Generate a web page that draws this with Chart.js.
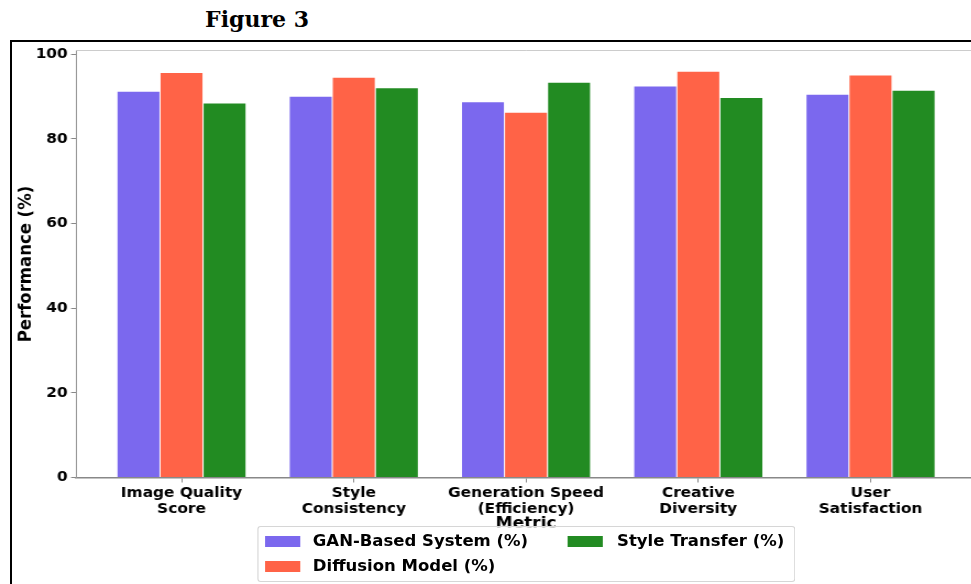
<!DOCTYPE html>
<html>
<head>
<meta charset="utf-8">
<script src="https://cdn.jsdelivr.net/npm/chart.js@4.4.0/dist/chart.umd.min.js"></script>
<style>
  html, body { margin: 0; padding: 0; width: 971px; height: 584px; overflow: hidden; background: #fff; }
  #fig { position: absolute; left: 157px; top: 6px; width: 200px; text-align: center;
         font: bold 22px "DejaVu Serif"; color: #000; line-height: 26px; }
  #frame { position: absolute; left: 10px; top: 40px; width: 1000px; height: 600px; border: 2px solid #000; }
  #wrap { position: absolute; left: 0; top: 0; transform: scaleX(1.1); transform-origin: 0 0; }
  #legend { position: absolute; left: 233.6px; top: 526px; width: 487px; height: 54px;
            border: 1px solid #d6d6d6; border-radius: 3px; background: rgba(255,255,255,0.8);
            font: bold 15px "DejaVu Sans"; color: #000; }
  .item { position: absolute; white-space: nowrap; }
  .patch { position: absolute; width: 32px; height: 11px; }
  .lbl { position: absolute; line-height: 18px; }
</style>
</head>
<body>
<div id="fig">Figure 3</div>
<div id="frame"></div>
<div id="wrap">
  <canvas id="chart" width="900" height="584"></canvas>
  <div id="legend"></div>
</div>
<script>
const categories = [
    ['Image Quality', 'Score'],
    ['Style', 'Consistency'],
    ['Generation Speed', '(Efficiency)'],
    ['Creative', 'Diversity'],
    ['User', 'Satisfaction']
];
const seriesNames = ['GAN-Based System (%)', 'Diffusion Model (%)', 'Style Transfer (%)'];
const ganValues = [91.4, 90.2, 88.9, 92.6, 90.7];
const diffusionValues = [95.8, 94.7, 86.4, 96.1, 95.2];
const styleValues = [88.6, 92.2, 93.5, 89.9, 91.6];
const colors = ['#7B68EE', '#FF6347', '#228B22'];
const yTicks = [0, 20, 40, 60, 80, 100];

const allValues = [ganValues, diffusionValues, styleValues];
const tickFont = { family: 'DejaVu Sans', size: 14, weight: 'bold', lineHeight: 1.2 };

// top spine (matplotlib frame)
const topSpine = {
    id: 'topSpine',
    afterDraw(chart) {
        const { ctx, chartArea } = chart;
        ctx.save();
        ctx.strokeStyle = '#cccccc';
        ctx.lineWidth = 1;
        ctx.beginPath();
        ctx.moveTo(chartArea.left, chartArea.top);
        ctx.lineTo(chartArea.right, chartArea.top);
        ctx.stroke();
        ctx.restore();
    }
};

const chart = new Chart(document.getElementById('chart'), {
    type: 'bar',
    data: {
        datasets: allValues.map((vals, k) => ({
            label: seriesNames[k],
            data: vals.map((v, i) => ({ x: i, y: v })),
            backgroundColor: colors[k],
            borderColor: 'rgba(255,255,255,0.3)',
            borderWidth: { top: 1, left: 0.5, right: 0.5, bottom: 0 },
            categoryPercentage: 0.75,
            barPercentage: 1.0
        }))
    },
    options: {
        responsive: false,
        animation: false,
        layout: { padding: { left: 0, right: 12.7, top: 50.5, bottom: 50.7 } },
        plugins: { legend: { display: false }, tooltip: { enabled: false } },
        scales: {
            x: {
                type: 'linear',
                offset: false,
                min: -0.6125,
                max: 4.6125,
                afterBuildTicks: s => { s.ticks = categories.map((c, i) => ({ value: i })); },
                afterFit: s => { s.height = 55.8; },
                ticks: {
                    font: tickFont,
                    color: '#000',
                    padding: 2,
                    maxRotation: 0,
                    autoSkip: false,
                    callback: v => categories[v]
                },
                grid: { offset: false, drawOnChartArea: false, drawTicks: true, tickLength: 5, color: '#888' },
                border: { color: '#888', width: 1.5 },
                title: {
                    display: true,
                    text: 'Metric',
                    font: { family: 'DejaVu Sans', size: 15.5, weight: 'bold', lineHeight: 1.2 },
                    color: '#000',
                    padding: { top: 0, bottom: 0 }
                }
            },
            y: {
                min: 0,
                max: 100.9,
                afterFit: s => { s.width = 69.1; },
                afterBuildTicks: s => { s.ticks = yTicks.map(v => ({ value: v })); },
                ticks: { font: tickFont, color: '#000', padding: 3 },
                grid: { drawOnChartArea: false, drawTicks: true, tickLength: 4.5, color: '#888' },
                border: { color: '#999', width: 1 },
                title: {
                    display: true,
                    text: 'Performance (%)',
                    font: { family: 'DejaVu Sans', size: 16.5, weight: 'bold', lineHeight: 1.2 },
                    color: '#000',
                    padding: { top: 13.7, bottom: 0 }
                }
            }
        }
    },
    plugins: [topSpine]
});

// matplotlib-style legend, two columns filled column by column
const legend = document.getElementById('legend');
chart.data.datasets.forEach((ds, i) => {
    const col = Math.floor(i / 2), row = i % 2;
    const item = document.createElement('div');
    item.className = 'item';
    item.style.left = (col === 0 ? 6.4 : 281.9) + 'px';
    item.style.top = (row === 0 ? 14 : 39) + 'px';
    item.innerHTML = '<div class="patch" style="left:0;top:-5.5px;background:' + ds.backgroundColor + '"></div>' +
        '<div class="lbl" style="left:' + (col === 0 ? 43.4 : 44.5) + 'px;top:-9.5px">' + ds.label + '</div>';
    legend.appendChild(item);
});
</script>
</body>
</html>
